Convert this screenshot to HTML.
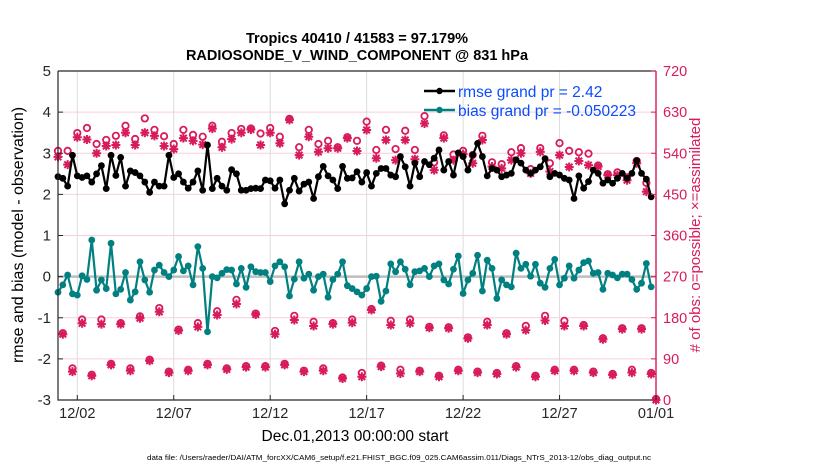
<!DOCTYPE html>
<html><head><meta charset="utf-8"><style>
html,body{margin:0;padding:0;background:#fff;}
svg{display:block;font-family:"Liberation Sans",Arial,sans-serif;}
</style></head><body>
<svg id="chart" width="830" height="470" viewBox="0 0 830 470" xmlns="http://www.w3.org/2000/svg">
<g id="grid"></g>
<g id="series"></g>
<g id="axes"></g>
<text x="357" y="43" text-anchor="middle" font-size="14.5" font-weight="bold">Tropics 40410 / 41583 = 97.179%</text>
<text x="357" y="60" text-anchor="middle" font-size="14.5" font-weight="bold">RADIOSONDE_V_WIND_COMPONENT @ 831 hPa</text>
<text transform="translate(23,235) rotate(-90)" text-anchor="middle" font-size="16">rmse and bias (model - observation)</text>
<text transform="translate(700,235) rotate(-90)" text-anchor="middle" font-size="15" fill="#d81b5a"># of obs: o=possible; ×=assimilated</text>
<text x="355" y="441" text-anchor="middle" font-size="15.5">Dec.01,2013 00:00:00 start</text>
<text x="147" y="460" font-size="7.3" textLength="504" lengthAdjust="spacingAndGlyphs">data file: /Users/raeder/DAI/ATM_forcXX/CAM6_setup/f.e21.FHIST_BGC.f09_025.CAM6assim.011/Diags_NTrS_2013-12/obs_diag_output.nc</text>
<g>
  <line x1="424" y1="91" x2="455" y2="91" stroke="#000" stroke-width="2.5"/>
  <circle cx="439.5" cy="91" r="3.2" fill="#000"/>
  <text x="458" y="97" font-size="15.5" fill="#0a4cff">rmse grand pr = 2.42</text>
  <line x1="424" y1="110" x2="455" y2="110" stroke="#008080" stroke-width="2.5"/>
  <circle cx="439.5" cy="110" r="3.2" fill="#008080"/>
  <text x="458" y="116" font-size="15.5" fill="#0a4cff">bias grand pr = -0.050223</text>
</g>
</svg>
<script>
// ---- data ----
const xTickLabels = ["12/02","12/07","12/12","12/17","12/22","12/27","01/01"];
const xTickDays = [1,6,11,16,21,26,31];
const leftTicks = [-3,-2,-1,0,1,2,3,4,5];
const rightTicks = [0,90,180,270,360,450,540,630,720];
const rmse = [2.43,2.39,2.2,2.95,2.45,2.41,2.45,2.3,2.5,2.7,2.14,2.95,2.46,2.9,2.2,2.57,2.53,2.45,2.3,2.05,2.3,2.2,2.2,2.95,2.41,2.5,2.3,2.15,2.3,2.57,2.1,3.2,2.14,2.39,2.2,2.1,2.6,2.5,2.1,2.1,2.14,2.15,2.14,2.35,2.33,2.15,2.35,1.77,2.1,2.39,2.08,2.25,2.3,1.9,2.43,2.68,2.45,2.35,2.14,2.68,2.39,2.4,2.55,2.3,2.53,
2.2,2.51,2.63,2.63,2.47,2.43,2.92,2.67,2.2,2.76,2.43,2.8,2.72,2.88,3.08,2.59,2.8,2.47,3.01,2.92,2.59,2.96,3.24,2.92,2.45,2.63,2.59,2.43,2.47,2.51,2.84,2.76,2.59,2.51,2.59,2.67,2.87,2.43,2.51,2.47,2.39,2.35,1.9,2.45,2.15,2.31,2.59,2.51,2.27,2.35,2.27,2.39,2.51,2.39,2.51,2.82,2.51,2.37,1.94];
const bias = [-0.38,-0.2,0.04,-0.42,-0.45,0.02,-0.07,0.89,-0.33,-0.08,-0.29,0.81,-0.42,-0.31,0.1,-0.57,-0.37,0.36,-0.08,-0.38,0.16,0.28,0.1,0.0,0.16,0.49,0.14,0.26,-0.2,0.73,0.2,-1.34,0.0,-0.03,0.08,0.17,0.16,-0.18,0.2,-0.26,0.24,0.12,0.1,0.1,-0.12,0.26,0.36,0.24,-0.47,-0.06,0.36,-0.04,0.06,-0.33,0.0,0.06,-0.5,-0.07,0.06,0.36,-0.22,-0.29,-0.37,-0.45,-0.29,
0.0,0.01,-0.6,-0.35,0.31,0.12,0.36,0.18,-0.2,0.12,0.14,0.2,0.0,0.26,0.31,-0.08,-0.18,0.18,0.5,-0.41,-0.08,0.08,0.52,-0.35,0.4,0.2,-0.53,-0.08,-0.2,-0.25,0.57,0.2,0.3,0.01,0.3,-0.16,-0.26,0.2,0.42,-0.2,-0.04,0.26,-0.04,0.16,0.34,0.38,0.08,0.1,-0.31,0.08,0.04,-0.03,0.06,0.06,-0.07,-0.31,-0.16,0.32,-0.25];
// obs counts per synoptic hour, one value per day (day 31 00Z = final point)
const possible00 = [543,582,558,576,569,589,558,578,598,582,592,593,613,589,565,573,607,589,587,619,577,543,576,514,549,549,560,540,511,496,521,0];
const assim00 = [532,575,540,558,558,578,549,567,594,571,592,585,613,576,551,573,591,569,569,605,573,538,569,507,540,543,536,523,511,492,518,0];
const possible06 = [144,174,174,166,181,199,152,166,192,217,187,149,182,169,166,174,197,171,174,158,157,135,169,144,160,182,171,162,133,155,155];
const assim06 = [144,168,166,166,179,193,152,160,186,210,187,144,175,162,166,169,197,164,168,158,157,135,164,144,153,174,162,162,133,155,155];
const possible12 = [543,593,567,598,614,575,589,574,563,591,581,574,551,558,551,565,545,547,545,518,535,534,518,540,503,516,543,537,492,485,473];
const assim12 = [515,570,556,585,585,556,573,559,553,585,558,562,536,543,551,545,529,525,527,503,525,518,511,525,496,500,510,514,492,481,456];
const possible18 = [67,53,77,67,86,60,64,77,67,72,72,77,62,67,47,57,73,64,62,51,64,60,57,72,51,64,64,60,55,64,57];
const assim18 = [62,53,77,64,86,60,64,77,67,72,72,77,62,64,47,51,73,58,62,51,64,60,57,72,51,64,64,60,55,60,57];

// ---- axes functions ----
const L=58,R=656,T=71,B=400;
const xS = d => L + d/31*(R-L);
const yL = v => B - (v+3)/8*(B-T);
const yR = v => B - v/720*(B-T);
const NS="http://www.w3.org/2000/svg";
const mk=(tag,attrs,parent)=>{const e=document.createElementNS(NS,tag);for(const k in attrs)e.setAttribute(k,attrs[k]);parent.appendChild(e);return e;};
const grid=document.getElementById('grid'), ser=document.getElementById('series'), ax=document.getElementById('axes');
const PINK="#d81b5a", TEAL="#008080";

// grid
leftTicks.forEach(v=>{ if(v>-3&&v<5){const g=mk('line',{x1:L,x2:R,y1:yL(v),y2:yL(v),stroke:'#f6cfdc','stroke-width':1},grid);

}});
xTickDays.forEach(d=>{const g=mk('line',{x1:xS(d),x2:xS(d),y1:T,y2:B,stroke:'#dcdcdc','stroke-width':1},grid);

});
const z=mk('line',{x1:L,x2:R,y1:yL(0),y2:yL(0),stroke:'#bdbdbd','stroke-width':2.5},grid);



// obs markers
function circ(d,v){const c=mk('circle',{cx:xS(d),cy:yR(v)-1,r:3.2,fill:'none',stroke:PINK,'stroke-width':1.8},ser);

}
function star(d,v){const x=xS(d),y=yR(v);const p=mk('path',{d:`M${x-4.5} ${y}H${x+4.5}M${x} ${y-4.5}V${y+4.5}M${x-3.3} ${y-3.3}L${x+3.3} ${y+3.3}M${x-3.3} ${y+3.3}L${x+3.3} ${y-3.3}`,stroke:PINK,'stroke-width':2},ser);

}
[[possible00,assim00,0],[possible06,assim06,0.25],[possible12,assim12,0.5],[possible18,assim18,0.75]].forEach(([p,a,off])=>{
  p.forEach((v,i)=>circ(i+off,v));
  a.forEach((v,i)=>star(i+off,v));
});

// lines
function series(vals,color,name){
  const pts=vals.map((v,i)=>[xS(i*0.25),yL(v)]);
  const pl=mk('polyline',{points:pts.map(p=>p.join(',')).join(' '),fill:'none',stroke:color,'stroke-width':2.2,'stroke-linejoin':'round'},ser);
  
  
  pts.forEach(p=>{const c=mk('circle',{cx:p[0],cy:p[1],r:3.4,fill:color},ser);
  
  });
}
series(rmse,'#000','rmse');
series(bias,TEAL,'bias');

// axes
const a1=mk('path',{d:`M${L} ${T}H${R}M${L} ${T}V${B}H${R}`,fill:'none',stroke:'#262626','stroke-width':1.2},ax);


const a2=mk('line',{x1:R,x2:R,y1:T,y2:B,stroke:PINK,'stroke-width':1.4},ax);


leftTicks.forEach(v=>{
  const t=mk('line',{x1:L,x2:L+5,y1:yL(v),y2:yL(v),stroke:'#262626'},ax);
  
  
  const tx=mk('text',{x:L-7,y:yL(v)+5,'text-anchor':'end','font-size':15,fill:'#262626'},ax);
  tx.textContent=String(v);
  
  
});
rightTicks.forEach(v=>{
  const t=mk('line',{x1:R-5,x2:R,y1:yR(v),y2:yR(v),stroke:PINK},ax);
  
  
  const tx=mk('text',{x:R+7,y:yR(v)+5,'font-size':14.5,fill:PINK},ax);
  tx.textContent=String(v);
  
  
});
xTickDays.forEach((d,i)=>{
  const t=mk('line',{x1:xS(d),x2:xS(d),y1:B-5,y2:B,stroke:'#262626'},ax);
  
  
  const tx=mk('text',{x:xS(d),y:B+18,'text-anchor':'middle','font-size':14.5,fill:'#262626'},ax);
  tx.textContent=xTickLabels[i];
  
  
});
</script>
</body></html>
